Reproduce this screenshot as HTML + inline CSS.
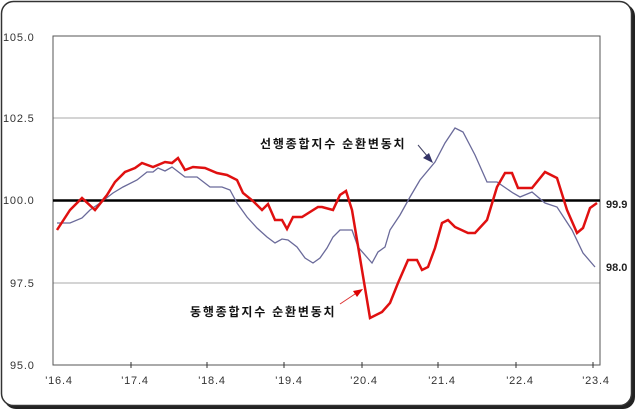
<!DOCTYPE html><html><head><meta charset="utf-8"><style>body{margin:0;background:#fff}</style></head><body>
<svg width="639" height="412" xmlns="http://www.w3.org/2000/svg" font-family="Liberation Sans, DejaVu Sans, sans-serif">
<rect x="4" y="4" width="631" height="405" rx="12" fill="#222"/>
<rect x="1.5" y="1.5" width="630" height="404" rx="12" fill="#fff" stroke="#333" stroke-width="1.5"/>
<g stroke="#aaa" stroke-width="1"><line x1="53" y1="118" x2="600" y2="118"/><line x1="53" y1="283" x2="600" y2="283"/></g>
<rect x="53" y="36" width="547" height="329" fill="none" stroke="#555" stroke-width="1"/>
<line x1="53" y1="200.5" x2="600" y2="200.5" stroke="#000" stroke-width="2.5"/>
<g stroke="#333"><line x1="131" y1="362" x2="131" y2="368"/><line x1="207" y1="362" x2="207" y2="368"/><line x1="284" y1="362" x2="284" y2="368"/><line x1="362" y1="362" x2="362" y2="368"/><line x1="438" y1="362" x2="438" y2="368"/><line x1="516" y1="362" x2="516" y2="368"/><line x1="593" y1="362" x2="593" y2="368"/></g>
<g font-size="11" fill="#333" letter-spacing="0.8"><text x="3" y="41">105.0</text><text x="3" y="122">102.5</text><text x="3" y="204">100.0</text><text x="10" y="287">97.5</text><text x="10" y="369">95.0</text>
<g text-anchor="middle"><text x="59" y="384">'16.4</text><text x="135" y="384">'17.4</text><text x="212" y="384">'18.4</text><text x="289" y="384">'19.4</text><text x="364" y="384">'20.4</text><text x="442" y="384">'21.4</text><text x="520" y="384">'22.4</text><text x="596" y="384">'23.4</text></g></g>
<polyline fill="none" stroke="#6a6a9a" stroke-width="1.3" points="57,223 70,223 82,218 90,210 100,203 113,193 123,187 137,180 147,172 153,172 158,168 165,171 172,167 185,177 197,177 210,187 222,187 230,190 237,203 247,217 257,228 267,237 275,243 282,239 288,240 297,247 305,258 313,263 320,258 327,248 333,237 340,230 352,230 358,247 372,263 378,252 385,247 390,230 400,215 410,197 420,180 435,162 445,143 455,128 463,132 475,155 487,182 497,182 513,193 520,197 532,192 545,203 557,207 572,230 583,253 595,267"/>
<polyline fill="none" stroke="#e01010" stroke-width="2.5" points="57,230 70,210 82,198 95,210 107,195 115,182 125,172 135,168 142,163 153,167 165,162 172,163 178,158 185,170 193,167 205,168 217,173 227,175 237,180 243,193 253,201 262,210 268,204 275,220 282,220 287,229 293,217 302,217 318,207 322,207 333,210 340,195 346,191 352,210 370,318 382,312 390,303 398,283 408,260 417,260 422,270 428,267 435,248 442,223 448,220 455,227 468,233 475,233 487,220 497,187 505,173 512,173 518,188 532,188 545,172 557,178 567,210 577,233 583,228 590,208 597,203"/>
<g font-size="12" font-weight="bold" fill="#111" font-family="Liberation Sans, Noto Sans CJK KR, sans-serif" letter-spacing="1.8"><text x="260" y="148">선행종합지수 순환변동치</text><text x="190" y="316">동행종합지수 순환변동치</text></g>
<line x1="418" y1="145" x2="428" y2="157" stroke="#446" stroke-width="1"/><polygon points="433,163 423,158 429,153" fill="#336"/>
<line x1="340" y1="304" x2="358" y2="292" stroke="#d33" stroke-width="1"/><polygon points="363,289 353,291 357,297" fill="#d00"/>
<g font-size="11" font-weight="bold" fill="#222"><text x="606" y="208">99.9</text><text x="606" y="271">98.0</text></g>
</svg></body></html>
